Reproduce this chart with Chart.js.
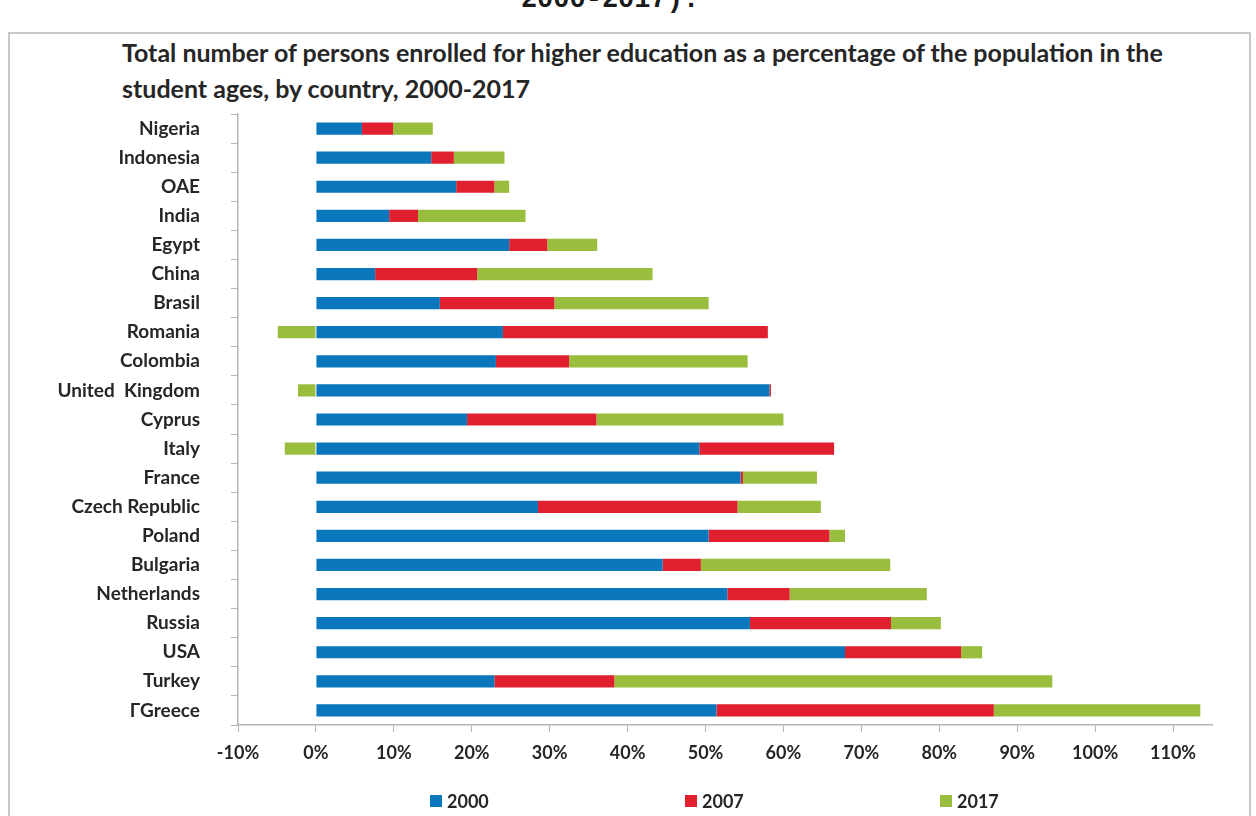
<!DOCTYPE html>
<html>
<head>
<meta charset="utf-8">
<script src="https://cdn.jsdelivr.net/npm/chart.js@4/dist/chart.umd.min.js"></script>
<style>
  body { margin: 0; background: #fff; overflow: hidden; width: 1256px; height: 816px; position: relative; }
  #head { position: absolute; left: 0; top: -13px; width: 1220px; text-align: center;
          font: bold 27px "Liberation Mono", monospace; line-height: 27px; color: #1a1a1a; }
  #frame { position: absolute; left: 8px; top: 32px; width: 1239px; height: 900px; border: 2px solid #c8c8c8; }
  #title { position: absolute; left: 122px; top: 34px; width: 1120px; white-space: nowrap;
           font: bold 25px Lato, sans-serif; line-height: 36px; color: #262626; }
  #wrap { position: absolute; left: 10px; top: 34px; width: 1238px; height: 782px; }
</style>
</head>
<body>
<div id="head">2000-2017).</div>
<div id="frame"></div>
<div id="title">Total number of persons enrolled for higher education as a percentage of the population in the<br>student ages, by country, 2000-2017</div>
<div id="wrap"><canvas id="myChart"></canvas></div>
<script>
var countries = ['Nigeria', 'Indonesia', 'OAE', 'India', 'Egypt', 'China', 'Brasil', 'Romania', 'Colombia',
    'United  Kingdom', 'Cyprus', 'Italy', 'France', 'Czech Republic', 'Poland', 'Bulgaria', 'Netherlands',
    'Russia', 'USA', 'Turkey', 'ΓGreece']

// each year is stacked on top of the previous one (percentage points)
var y2000 = [5.9, 14.8, 18.0, 9.4, 24.8, 7.6, 15.9, 24.0, 23.1, 58.2, 19.4, 49.2, 54.5, 28.5, 50.4, 44.5, 52.8, 55.7, 67.9, 22.9, 51.4]
var y2007 = [4.0, 2.9, 4.9, 3.7, 4.9, 13.1, 14.7, 34.0, 9.4, 0.2, 16.6, 17.3, 0.3, 25.6, 15.5, 4.9, 8.0, 18.1, 14.9, 15.4, 35.6]
var y2017 = [5.1, 6.5, 1.9, 13.8, 6.4, 22.5, 19.8, -4.9, 22.9, -2.3, 24.0, -4.0, 9.5, 10.7, 2.0, 24.3, 17.6, 6.4, 2.7, 56.2, 26.5]

var xTicksMin = -10, xTicksMax = 115

const textColor = '#262626'
const axisColor = '#b5b5b5'

// legend spread out under the plot
const legendRow = {
    id: 'legendRow',
    afterDraw(chart) {
        const { ctx, chartArea } = chart
        ctx.save()
        ctx.font = 'bold 18px Lato'
        ctx.textBaseline = 'middle'
        ctx.textAlign = 'left'
        const y = chartArea.bottom + 76
        chart.data.datasets.forEach((ds, i) => {
            const x = chartArea.left + 192 + i * 255
            ctx.fillStyle = ds.backgroundColor
            ctx.fillRect(x, y - 6, 12, 12)
            ctx.fillStyle = textColor
            ctx.fillText(ds.label, x + 17, y + 1)
        })
        ctx.restore()
    }
}

let ctx = document.getElementById('myChart').getContext('2d')
let myChart = new Chart(ctx, {
    type: 'bar',
    data: {
        labels: countries,
        datasets: [
            { label: '2000', data: y2000, backgroundColor: '#0a77bd' },
            { label: '2007', data: y2007, backgroundColor: '#e0202f' },
            { label: '2017', data: y2017, backgroundColor: '#99bd3c' }
        ]
    },
    options: {
        indexAxis: 'y',
        responsive: true,
        maintainAspectRatio: false,
        animation: false,
        layout: { padding: { top: 80, right: 36, bottom: 51, left: 0 } },
        datasets: { bar: { categoryPercentage: 1, barPercentage: 0.42 } },
        plugins: {
            legend: { display: false },
            tooltip: { enabled: false }
        },
        scales: {
            x: {
                stacked: true,
                min: xTicksMin,
                max: xTicksMax,
                afterFit: (scale) => { scale.height = 40 },
                border: { color: axisColor, width: 1.5 },
                grid: { drawOnChartArea: false, color: axisColor, tickLength: 7 },
                ticks: {
                    stepSize: 10,
                    includeBounds: false,
                    padding: 10,
                    color: textColor,
                    font: { family: 'Lato', size: 18, weight: 'bold' },
                    callback: (v) => v + '%'
                }
            },
            y: {
                stacked: true,
                afterFit: (scale) => { scale.width = 228 },
                border: { color: axisColor, width: 1.5 },
                grid: { drawOnChartArea: false, color: axisColor, tickLength: 7 },
                ticks: {
                    padding: 31,
                    color: textColor,
                    font: { family: 'Lato', size: 19, weight: 'bold' }
                }
            }
        }
    },
    plugins: [legendRow]
})
</script>
</body>
</html>
